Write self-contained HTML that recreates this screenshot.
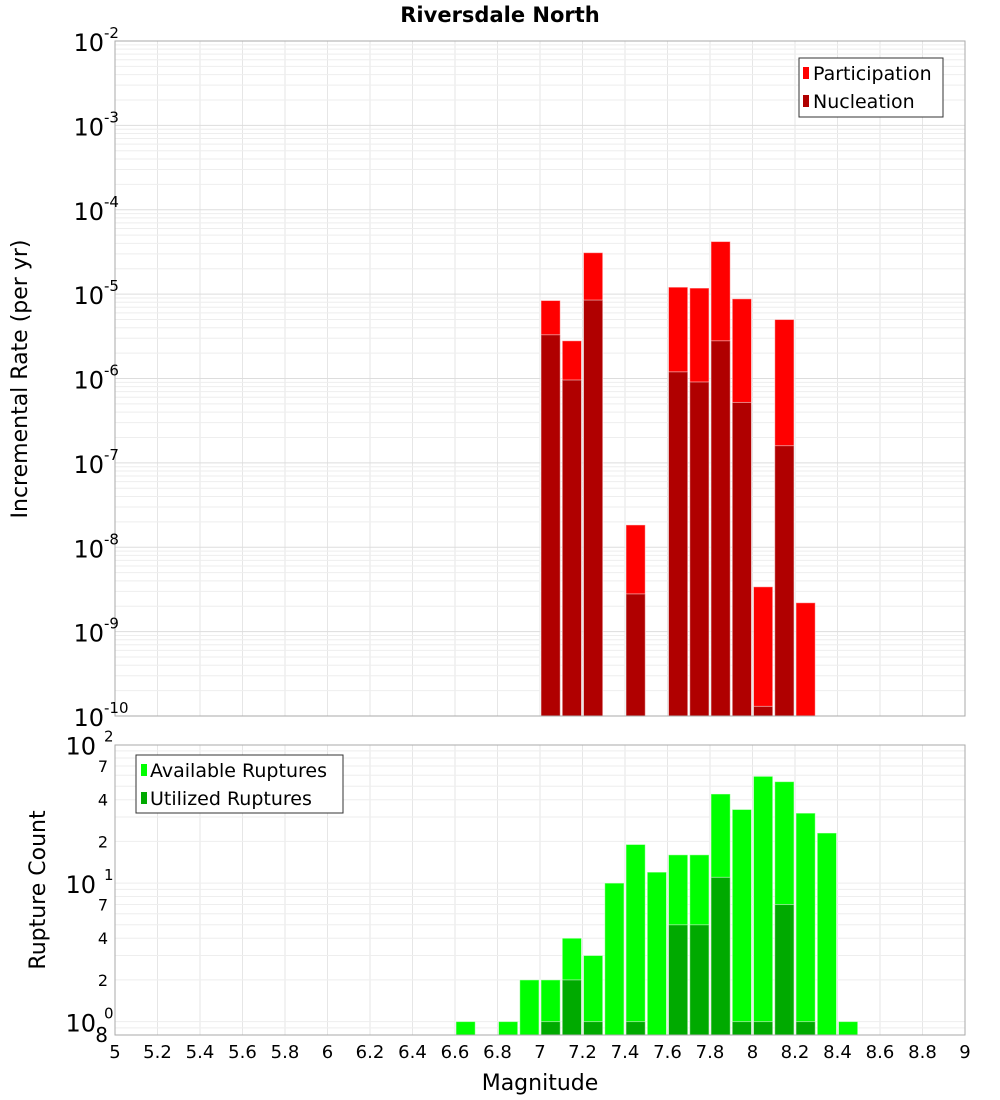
<!DOCTYPE html>
<html><head><meta charset="utf-8"><style>
html,body{margin:0;padding:0;background:#fff;width:1000px;height:1100px;overflow:hidden}
text{font-family:"DejaVu Sans","Liberation Sans",sans-serif;fill:#000}
</style></head><body>
<svg id="chart" width="1000" height="1100" viewBox="0 0 1000 1100" xmlns="http://www.w3.org/2000/svg">
<text x="500" y="22" text-anchor="middle" font-size="21" font-weight="bold">Riversdale North</text>
<g id="grid"></g>
<g id="bars"></g>
<rect x="115" y="41" width="850" height="675" fill="none" stroke="#aaa"/>
<rect x="115" y="745" width="850" height="290" fill="none" stroke="#aaa"/>
<g id="labels"></g>
<text transform="translate(27,379) rotate(-90)" text-anchor="middle" font-size="22">Incremental Rate (per yr)</text>
<text transform="translate(45,890) rotate(-90)" text-anchor="middle" font-size="22">Rupture Count</text>
<text x="540" y="1090" text-anchor="middle" font-size="22">Magnitude</text>
<g>
<rect x="799" y="58" width="144" height="59" fill="#fff" stroke="#333"/>
<rect x="803" y="67" width="6" height="12" fill="#f00"/>
<text x="813" y="80" font-size="19">Participation</text>
<rect x="803" y="95" width="6" height="12" fill="#b00000"/>
<text x="813" y="108" font-size="19">Nucleation</text>
</g>
<g>
<rect x="136" y="755" width="207" height="58" fill="#fff" stroke="#333"/>
<rect x="141" y="764" width="6" height="12" fill="#0f0"/>
<text x="150" y="777" font-size="19">Available Ruptures</text>
<rect x="141" y="792" width="6" height="12" fill="#00aa00"/>
<text x="150" y="805" font-size="19">Utilized Ruptures</text>
</g>
</svg>
<script>
const topMags = [7.05,7.15,7.25,7.45,7.65,7.75,7.85,7.95,8.05,8.15,8.25];
const participation = [8.4e-6,2.8e-6,3.1e-5,1.84e-8,1.21e-5,1.18e-5,4.2e-5,8.8e-6,3.4e-9,5.0e-6,2.2e-9];
const nucleation = [3.3e-6,9.6e-7,8.5e-6,2.8e-9,1.2e-6,9.1e-7,2.8e-6,5.2e-7,1.3e-10,1.6e-7,0];
const botMags = [6.65,6.75,6.85,6.95,7.05,7.15,7.25,7.35,7.45,7.55,7.65,7.75,7.85,7.95,8.05,8.15,8.25,8.35,8.45];
const available = [1,0,1,2,2,4,3,10,19,12,16,16,44,34,59,54,32,23,1];
const utilized = [0,0,0,0,1,2,1,0,1,0,5,5,11,1,1,7,1,0,0];
const xTicks = ["5","5.2","5.4","5.6","5.8","6","6.2","6.4","6.6","6.8","7","7.2","7.4","7.6","7.8","8","8.2","8.4","8.6","8.8","9"];
const topExps = [-10,-9,-8,-7,-6,-5,-4,-3,-2];
const botMinor = [2,4,7];

const NS="http://www.w3.org/2000/svg";
const X=m=>115+(m-5)*212.5;
const YT=v=>716-(Math.log10(v)+10)*84.375;
const YB=v=>1035-(Math.log10(v)-Math.log10(0.8))*138.5;
function mk(parent,tag,attrs){const e=document.createElementNS(NS,tag);for(const k in attrs)e.setAttribute(k,attrs[k]);document.getElementById(parent).appendChild(e);return e;}

// grid
for(const t of xTicks){const x=X(+t);
 let g=mk('grid','line',{x1:x,x2:x,y1:41,y2:716,stroke:'#e6e6e6'});
 
 
 g=mk('grid','line',{x1:x,x2:x,y1:745,y2:1035,stroke:'#e6e6e6'});
 
 
 const l=mk('labels','text',{x:x,y:1058,'text-anchor':'middle','font-size':18});
 l.textContent=t;
 
 
}
for(let e=-10;e<-2;e++){for(let k=1;k<=9;k++){const y=YT(k*Math.pow(10,e));
 const g=mk('grid','line',{x1:115,x2:965,y1:y,y2:y,stroke:k==1?'#ddd':'#eee'});
 
 }}
for(const e of topExps){const y=YT(Math.pow(10,e));
 const l=mk('labels','text',{x:104,y:y+10,'text-anchor':'end','font-size':24});
 
 
 l.innerHTML='10';
 const s=mk('labels','text',{x:104,y:y-3,'font-size':15});
 s.textContent=String(e);
 
 
}
for(let e=-1;e<2;e++){for(let k=1;k<=9;k++){const v=k*Math.pow(10,e);if(v<0.8||v>100)continue;const y=YB(v);
 const g=mk('grid','line',{x1:115,x2:965,y1:y,y2:y,stroke:'#eee'});
 
 }}
for(let e=0;e<=2;e++){const y=YB(Math.pow(10,e));
 const l=mk('labels','text',{x:96,y:y+10,'text-anchor':'end','font-size':24});
 l.textContent='10';
 
 
 const s=mk('labels','text',{x:104,y:y-3,'font-size':15});
 s.textContent=String(e);
 
 
 if(e<2)for(const k of botMinor){const yy=YB(k*Math.pow(10,e));
  const m=mk('labels','text',{x:108,y:yy+6,'text-anchor':'end','font-size':16});
  m.textContent=String(k);
  
  }
}
const l8=mk('labels','text',{x:108,y:1042,'text-anchor':'end','font-size':20});
l8.textContent='8';



function bar(m,v,yf,base,fill,name){if(!(v>0))return;const x0=X(m-0.05)+1,x1=X(m+0.05)-1,y=yf(v);
 const r=mk('bars','rect',{x:x0,y:y,width:x1-x0,height:base-y,fill:fill,stroke:'rgba(255,255,255,0.5)','stroke-width':1});
 
 }
topMags.forEach((m,i)=>bar(m,participation[i],YT,716,'#ff0000','participation-bar'));
topMags.forEach((m,i)=>bar(m,nucleation[i],YT,716,'#b00000','nucleation-bar'));
botMags.forEach((m,i)=>bar(m,available[i],YB,1035,'#00ff00','available-bar'));
botMags.forEach((m,i)=>bar(m,utilized[i],YB,1035,'#00aa00','utilized-bar'));
</script>
</body></html>
